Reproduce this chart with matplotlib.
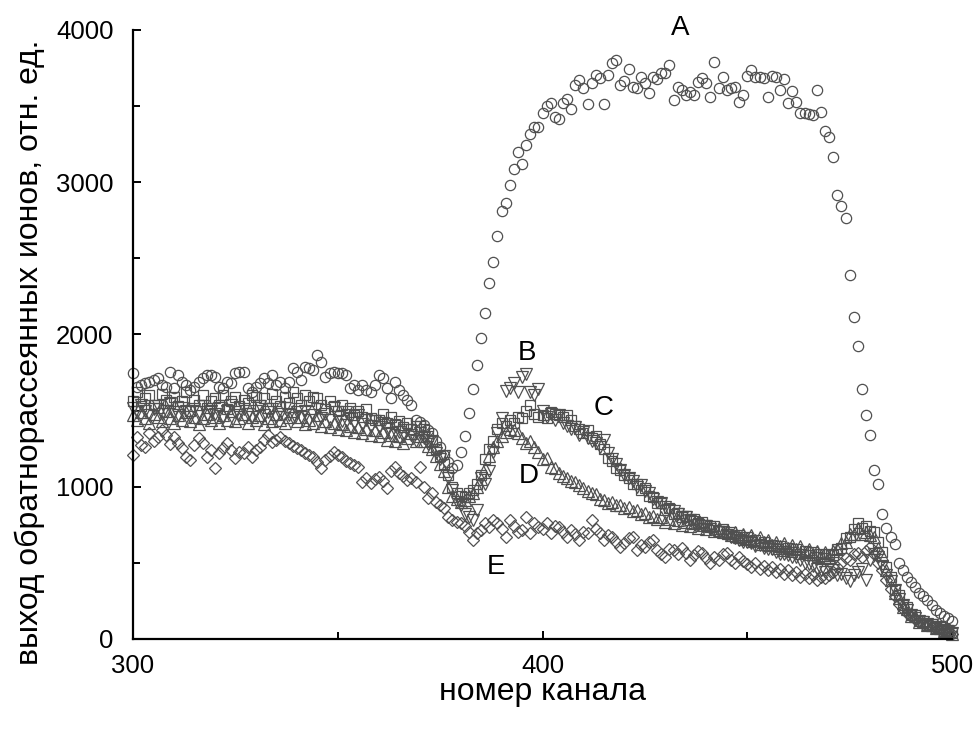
import numpy as np
import matplotlib
matplotlib.use("Agg")
import matplotlib.pyplot as plt
from matplotlib.ticker import MultipleLocator

plt.rcParams['font.family'] = ['Liberation Sans', 'DejaVu Sans']

# channel numbers, one spectrum point per channel
channels = np.arange(300, 501)

# A - circles
yield_a = [
    1746, 1655, 1668, 1681, 1688, 1700, 1714, 1668, 1655, 1753,
    1648, 1733, 1688, 1668, 1635, 1655, 1688, 1714, 1733, 1733,
    1720, 1655, 1648, 1688, 1681, 1746, 1753, 1753, 1648, 1622,
    1655, 1681, 1714, 1681, 1733, 1668, 1688, 1648, 1688, 1779,
    1753, 1700, 1786, 1779, 1766, 1865, 1819, 1720, 1746, 1753,
    1746, 1746, 1733, 1648, 1668, 1635, 1668, 1635, 1622, 1668,
    1733, 1714, 1648, 1582, 1688, 1635, 1602, 1569, 1536, 1438,
    1425, 1405, 1372, 1350, 1300, 1260, 1210, 1160, 1120, 1140,
    1228, 1333, 1484, 1641, 1799, 1976, 2140, 2337, 2475, 2646,
    2810, 2863, 2981, 3086, 3198, 3119, 3244, 3316, 3362, 3362,
    3454, 3500, 3519, 3427, 3414, 3519, 3546, 3480, 3638, 3670,
    3618, 3513, 3651, 3703, 3683, 3513, 3703, 3782, 3802, 3638,
    3664, 3743, 3624, 3618, 3690, 3651, 3585, 3690, 3677, 3716,
    3716, 3769, 3539, 3624, 3605, 3572, 3592, 3572, 3658, 3683,
    3651, 3559, 3789, 3618, 3690, 3605, 3618, 3624, 3526, 3572,
    3697, 3736, 3690, 3690, 3683, 3559, 3697, 3690, 3605, 3677,
    3519, 3598, 3526, 3454, 3454, 3447, 3440, 3605, 3460, 3335,
    3296, 3165, 2915, 2843, 2764, 2390, 2114, 1924, 1641, 1471,
    1339, 1110, 1018, 821, 729, 670, 624, 499, 453, 407,
    374, 341, 302, 280, 256, 223, 190, 171, 150, 135,
    120,
]

# B - down triangles
yield_b = [
    1520, 1490, 1540, 1500, 1470, 1510, 1530, 1480, 1500, 1550,
    1490, 1470, 1520, 1500, 1460, 1510, 1490, 1530, 1470, 1500,
    1480, 1520, 1460, 1500, 1540, 1490, 1470, 1510, 1480, 1460,
    1500, 1530, 1470, 1490, 1510, 1460, 1480, 1520, 1470, 1450,
    1490, 1460, 1500, 1440, 1470, 1510, 1450, 1480, 1440, 1520,
    1460, 1430, 1490, 1450, 1420, 1470, 1410, 1440, 1400, 1430,
    1390, 1420, 1380, 1350, 1400, 1360, 1330, 1370, 1340, 1300,
    1350, 1320, 1280, 1300, 1220, 1180, 1200, 1060, 980, 900,
    880, 820, 800, 780, 850, 1060, 1020, 1100, 1230, 1350,
    1450, 1630, 1650, 1680, 1620, 1720, 1740, 1620, 1600, 1640,
    1500, 1460, 1480, 1440, 1470, 1420, 1400, 1380, 1390, 1340,
    1360, 1320, 1300, 1290, 1260, 1310, 1220, 1180, 1150, 1110,
    1080, 1060, 1040, 1000, 1010, 970, 960, 920, 900, 890,
    870, 850, 840, 820, 800, 800, 780, 770, 750, 740,
    740, 720, 710, 700, 700, 680, 670, 660, 650, 640,
    640, 630, 610, 620, 600, 590, 590, 570, 560, 560,
    550, 540, 540, 520, 500, 490, 480, 460, 450, 440,
    470, 450, 420, 430, 400, 380, 420, 440, 460, 390,
    520, 560, 540, 480, 420, 380, 320, 260, 220, 190,
    160, 140, 120, 110, 100, 90, 80, 70, 60, 50,
    40,
]

# C - squares
yield_c = [
    1560, 1620, 1530, 1580, 1600, 1540, 1520, 1610, 1570, 1550,
    1590, 1530, 1560, 1620, 1500, 1570, 1540, 1600, 1520, 1560,
    1580, 1540, 1600, 1510, 1560, 1590, 1530, 1570, 1550, 1600,
    1590, 1540, 1580, 1520, 1610, 1560, 1530, 1590, 1550, 1620,
    1580, 1540, 1600, 1560, 1590, 1580, 1540, 1510, 1560, 1530,
    1500, 1540, 1480, 1520, 1470, 1500, 1460, 1510, 1450, 1440,
    1440, 1480, 1420, 1460, 1410, 1430, 1390, 1420, 1380, 1400,
    1400, 1380, 1330, 1300, 1250, 1200, 1150, 1080, 1000, 960,
    940, 930, 960, 980, 1020, 1080, 1180, 1250, 1300, 1380,
    1420, 1400, 1440, 1420, 1460, 1450, 1500, 1540, 1480, 1460,
    1470, 1450, 1490, 1480, 1470, 1460, 1470, 1440, 1400, 1380,
    1350, 1370, 1320, 1330, 1280, 1250, 1190, 1170, 1120, 1110,
    1080, 1060, 1020, 1020, 980, 990, 940, 930, 890, 890,
    850, 860, 820, 830, 800, 810, 780, 790, 760, 770,
    750, 740, 740, 710, 720, 690, 700, 670, 680, 650,
    670, 640, 650, 620, 640, 610, 620, 590, 610, 580,
    600, 570, 590, 560, 580, 550, 570, 540, 560, 530,
    560, 550, 590, 600, 660, 670, 720, 760, 730, 740,
    710, 700, 640, 570, 470, 410, 320, 290, 220, 210,
    160, 160, 120, 120, 90, 100, 70, 80, 55, 60,
    40,
]

# D - up triangles
yield_d = [
    1470, 1440, 1490, 1450, 1420, 1480, 1460, 1430, 1500, 1450,
    1420, 1470, 1440, 1490, 1430, 1460, 1410, 1450, 1480, 1440,
    1460, 1420, 1470, 1440, 1500, 1430, 1450, 1480, 1420, 1460,
    1440, 1470, 1410, 1450, 1430, 1480, 1440, 1420, 1460, 1500,
    1430, 1460, 1410, 1440, 1420, 1470, 1400, 1430, 1390, 1420,
    1380, 1410, 1370, 1400, 1360, 1390, 1350, 1380, 1340, 1370,
    1330, 1360, 1310, 1340, 1300, 1330, 1290, 1320, 1350, 1300,
    1330, 1300, 1270, 1250, 1200, 1150, 1100, 1000, 940, 920,
    900, 910, 940, 960, 1000, 1050, 1120, 1200, 1260, 1300,
    1330, 1360, 1380, 1370, 1350, 1320, 1290, 1300, 1260, 1230,
    1180, 1190, 1130, 1120, 1090, 1070, 1060, 1040, 1030, 1010,
    990, 970, 960, 950, 920, 910, 890, 900, 880, 880,
    860, 870, 840, 850, 820, 830, 800, 810, 790, 800,
    770, 790, 760, 780, 750, 770, 740, 760, 730, 750,
    720, 740, 710, 730, 700, 710, 680, 700, 670, 690,
    660, 680, 650, 670, 640, 650, 620, 640, 610, 630,
    600, 620, 590, 610, 570, 590, 560, 580, 550, 570,
    540, 580, 590, 630, 640, 690, 690, 730, 690, 700,
    680, 670, 600, 550, 450, 390, 300, 270, 210, 200,
    150, 150, 110, 115, 90, 90, 70, 70, 50, 50,
    35,
]

# E - diamonds
yield_e = [
    1208, 1326, 1274, 1261, 1352, 1300, 1326, 1372, 1339, 1280,
    1326, 1290, 1254, 1195, 1175, 1274, 1320, 1290, 1195, 1240,
    1123, 1221, 1254, 1287, 1241, 1188, 1230, 1221, 1260, 1195,
    1240, 1261, 1306, 1339, 1293, 1310, 1326, 1300, 1287, 1270,
    1254, 1240, 1221, 1210, 1195, 1160, 1123, 1175, 1200, 1228,
    1210, 1195, 1170, 1156, 1140, 1129, 1031, 1060, 1024, 1050,
    1064, 1040, 991, 1100, 1129, 1090, 1070, 1044, 1060, 1031,
    1129, 1000, 926, 958, 900, 880, 860, 800, 781, 770,
    762, 740, 700, 650, 696, 716, 760, 735, 781, 760,
    720, 670, 781, 740, 700, 716, 801, 696, 760, 735,
    720, 762, 696, 740, 735, 700, 670, 716, 690, 650,
    700, 696, 781, 720, 696, 650, 680, 670, 640, 604,
    630, 660, 670, 584, 620, 604, 640, 650, 584, 560,
    538, 590, 584, 560, 600, 565, 519, 550, 580, 565,
    530, 499, 540, 519, 560, 565, 520, 500, 540, 510,
    490, 470, 500, 460, 480, 450, 470, 440, 460, 430,
    450, 420, 440, 410, 430, 400, 420, 390, 410, 400,
    420, 440, 470, 500, 530, 520, 560, 565, 540, 580,
    604, 560, 500, 450, 390, 330, 280, 230, 200, 170,
    150, 130, 110, 100, 90, 80, 70, 60, 50, 40,
    35,
]

series = [
    (yield_a, 'o', 7.4),
    (yield_b, 'v', 8.0),
    (yield_c, 's', 6.8),
    (yield_d, '^', 8.0),
    (yield_e, 'D', 6.4),
]

curve_labels = ['A', 'B', 'C', 'D', 'E']
label_x = [433.6, 396.2, 415.0, 396.7, 388.6]
label_y = [4010, 1880, 1515, 1070, 475]

fig = plt.figure(figsize=(9.76, 7.31), dpi=100)
ax = fig.add_axes([0.1363, 0.1259, 0.8391, 0.8331])

for values, marker, size in series:
    ax.plot(channels, values, linestyle='none', marker=marker, markersize=size,
            markerfacecolor='none', markeredgecolor='#505050', markeredgewidth=0.9,
            clip_on=False)

for name, lx, ly in zip(curve_labels, label_x, label_y):
    ax.text(lx, ly, name, fontsize=20, ha='center', va='center')

ax.set_xlim(300, 500)
ax.set_ylim(0, 4000)
ax.xaxis.set_major_locator(MultipleLocator(100))
ax.xaxis.set_minor_locator(MultipleLocator(50))
ax.yaxis.set_major_locator(MultipleLocator(1000))
ax.yaxis.set_minor_locator(MultipleLocator(500))

for side in ['top', 'right']:
    ax.spines[side].set_visible(False)
for side in ['left', 'bottom']:
    ax.spines[side].set_linewidth(1.6)

ax.tick_params(which='both', direction='in', width=1.4, labelsize=18.5)
ax.tick_params(which='major', length=6)
ax.tick_params(which='minor', length=5)
ax.tick_params(axis='x', pad=11)
ax.tick_params(axis='y', pad=14)

ax.set_xlabel('номер канала', fontsize=23)
ax.set_ylabel('выход обратнорассеянных ионов, отн. ед.', fontsize=23)
ax.xaxis.set_label_coords(0.5, -0.063)
ax.yaxis.set_label_coords(-0.107, 0.47)

fig.savefig('out.png', dpi=100)
